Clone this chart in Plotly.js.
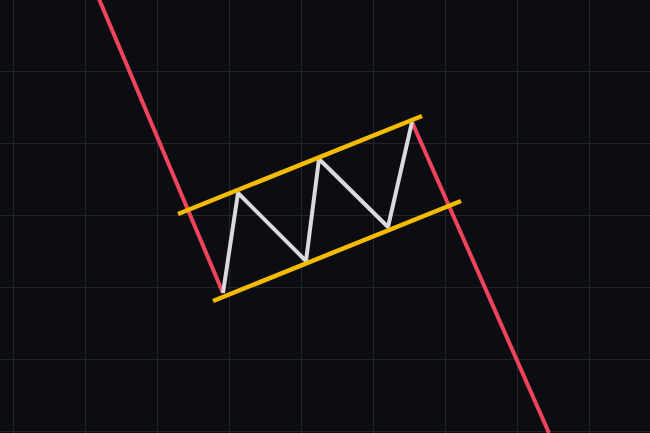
<!DOCTYPE html>
<html>
<head>
<meta charset="utf-8">
<script src="https://cdn.plot.ly/plotly-3.0.1.min.js"></script>
<style>
  html, body { margin: 0; padding: 0; background: #0c0d12; }
  #chart { width: 650px; height: 433px; }
</style>
</head>
<body>
<div id="chart"></div>
<script>
// Bear flag pattern (x = time, y = price)
const poleX = [99, 223];
const poleY = [434, 140];

const flagX = [223, 238, 306, 319, 388, 412];
const flagY = [140, 240, 172, 274, 206, 311];

const breakX = [412, 549];
const breakY = [311, 0];

const upperX = [178, 422];
const upperY = [219, 317];

const lowerX = [213, 461];
const lowerY = [132, 232];

const red = '#f0445c';
const white = '#d9dadf';
const gold = '#f5bb00';

const traces = [
  { x: poleX, y: poleY, mode: 'lines', line: { color: red, width: 4 }, hoverinfo: 'skip' },
  { x: breakX, y: breakY, mode: 'lines', line: { color: red, width: 4 }, hoverinfo: 'skip' },
  { x: flagX, y: flagY, mode: 'lines', line: { color: white, width: 4 }, hoverinfo: 'skip' },
  { x: upperX, y: upperY, mode: 'lines', line: { color: gold, width: 4.5 }, hoverinfo: 'skip' },
  { x: lowerX, y: lowerY, mode: 'lines', line: { color: gold, width: 4.5 }, hoverinfo: 'skip' }
];

const axisCommon = {
  showticklabels: false,
  zeroline: false,
  showline: false,
  ticks: '',
  gridcolor: '#22242b',
  gridwidth: 1,
  fixedrange: true
};

const layout = {
  width: 650,
  height: 433,
  margin: { l: 0, r: 0, t: 0, b: 0, pad: 0 },
  paper_bgcolor: '#0c0d12',
  plot_bgcolor: '#0c0d12',
  showlegend: false,
  xaxis: Object.assign({}, axisCommon, { range: [0, 650], tick0: 13, dtick: 72 }),
  yaxis: Object.assign({}, axisCommon, { range: [0, 433], tick0: 1.2, dtick: 72.05 })
};

Plotly.newPlot('chart', traces, layout, { displayModeBar: false, staticPlot: true });
</script>
</body>
</html>
